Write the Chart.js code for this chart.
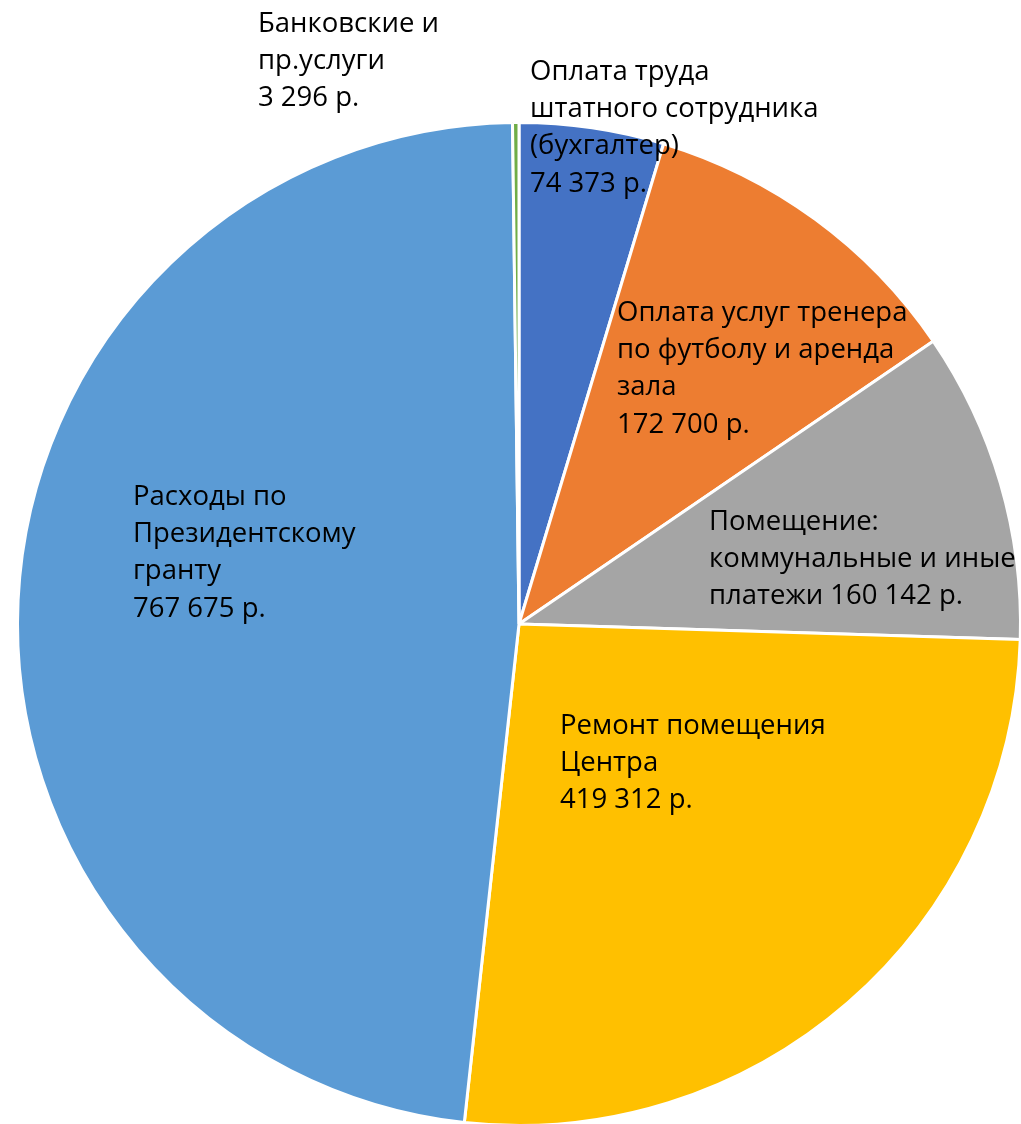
<!DOCTYPE html>
<html>
<head>
<meta charset="utf-8">
<script src="https://cdn.jsdelivr.net/npm/chart.js@4.4.0/dist/chart.umd.min.js"></script>
<style>
  html, body { margin: 0; padding: 0; background: #fff; overflow: hidden; }
  #wrap { position: relative; width: 1040px; height: 1130px; }
</style>
</head>
<body>
<div id="wrap"><canvas id="myChart"></canvas></div>
<script>
// categories in drawing order (clockwise from the top)
const categories = [
    'Оплата труда штатного сотрудника (бухгалтер)',
    'Оплата услуг тренера по футболу и аренда зала',
    'Помещение: коммунальные и иные платежи',
    'Ремонт помещения Центра',
    'Расходы по Президентскому гранту',
    'Банковские и пр.услуги'
];
const amounts = [74373, 172700, 160142, 419312, 767675, 3296];
const colors = ['#4472C4', '#ED7D31', '#A5A5A5', '#FFC000', '#5B9BD5', '#70AD47'];

// how each data label is broken into lines ({v} = formatted value)
const labelLines = [
    ['Оплата труда', 'штатного сотрудника', '(бухгалтер)', '{v}'],
    ['Оплата услуг тренера', 'по футболу и аренда', 'зала', '{v}'],
    ['Помещение:', 'коммунальные и иные', 'платежи {v}'],
    ['Ремонт помещения', 'Центра', '{v}'],
    ['Расходы по', 'Президентскому', 'гранту', '{v}'],
    ['Банковские и', 'пр.услуги', '{v}']
];

function fmt(n) {
    return String(n).replace(/\B(?=(\d{3})+(?!\d))/g, ' ') + ' р.';
}

document.addEventListener("DOMContentLoaded", () => {
    // label anchors, left edge / first line middle, relative to pie centre
    const labelOffsets = [[11, -552], [98, -311], [190, -102], [41, 102], [-386, -127], [-261, -600]];

    const dataLabels = {
        id: 'dataLabels',
        afterDatasetsDraw(chart) {
            const ctx = chart.ctx;
            const arc = chart.getDatasetMeta(0).data[0];
            ctx.save();
            ctx.fillStyle = '#000';
            ctx.font = '27.5px "Open Sans", sans-serif';
            ctx.textAlign = 'left';
            ctx.textBaseline = 'middle';
            labelLines.forEach((lines, i) => {
                const [dx, dy] = labelOffsets[i];
                lines.forEach((line, j) => {
                    ctx.fillText(line.replace('{v}', fmt(amounts[i])), arc.x + dx, arc.y + dy + j * 37.3);
                });
            });
            ctx.restore();
        }
    };

    const ctx = document.getElementById('myChart').getContext('2d');
    new Chart(ctx, {
        type: 'pie',
        data: {
            labels: categories,
            datasets: [{
                data: amounts,
                backgroundColor: colors,
                borderColor: '#ffffff',
                borderWidth: 3
            }]
        },
        options: {
            responsive: true,
            maintainAspectRatio: false,
            animation: false,
            layout: { padding: { left: 16, right: 18, top: 121, bottom: 3 } },
            plugins: {
                legend: { display: false },
                tooltip: { enabled: false }
            }
        },
        plugins: [dataLabels]
    });
});
</script>
</body>
</html>
